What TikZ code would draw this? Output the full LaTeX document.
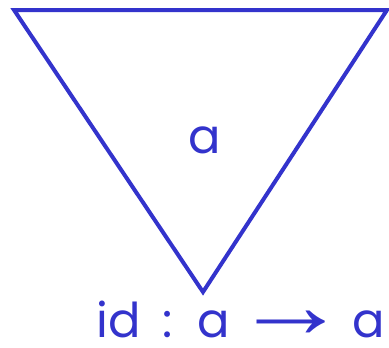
\documentclass[tikz,border=0pt]{standalone}
\usepackage{fontspec}
\setmainfont{Poppins}
\newfontfamily\arrowfont{Liberation Sans}
\usetikzlibrary{positioning}
\definecolor{inkblue}{RGB}{51,51,204}

\begin{document}
\begin{tikzpicture}[x=1pt, y=-1pt]
    \tikzset{
        label text/.style={text=inkblue, font=\fontsize{48}{54}\selectfont, inner sep=0pt},
        tri line/.style={draw=inkblue, line width=4pt, line join=miter}
    }
    \useasboundingbox (0,0) rectangle (389,348);

    % Triangle corners
    \coordinate (TL) at (14,10);
    \coordinate (TR) at (387,10);
    \coordinate (B) at (203,292);
    \draw[tri line] (TL) -- (TR) -- (B) -- cycle;

    % Object inside
    \node[label text, anchor=base] (obj) at (205,153) {a};

    % Identity arrow
    \node[label text, anchor=base] (idarr) at (241,337)
        {id\hspace{22pt}:\hspace{24pt}a\hspace{4pt}{\arrowfont\fontsize{72}{76}\selectfont\scalebox{1.6}[1.3]{→}}\hspace{4pt}a};
\end{tikzpicture}
\end{document}
